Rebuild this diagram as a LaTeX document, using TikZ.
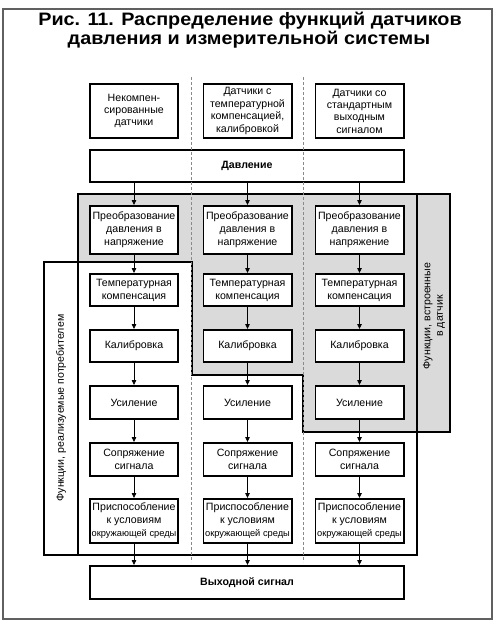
\documentclass[tikz,border=0pt]{standalone}
\usepackage{fontspec}
\setmainfont{Liberation Sans}
\newfontfamily\titlefont[FakeStretch=1.1]{Liberation Sans}
\usetikzlibrary{arrows.meta}
\definecolor{shade}{HTML}{DADADA}
\definecolor{dashc}{HTML}{8A8A8A}
\begin{document}
\begin{tikzpicture}[x=1pt,y=-1pt,
  box/.style={draw,line width=1.9pt,fill=white,minimum width=88.1pt,align=center,inner sep=1pt,font=\fontsize{10.6}{13}\selectfont},
  bar/.style={draw,line width=1.9pt,fill=white,minimum width=314.1pt,minimum height=32.1pt,font=\fontsize{10.6}{13}\selectfont\bfseries},
  arr/.style={line width=0.8pt,-{Triangle[width=4.5pt,length=5pt]}},
  region/.style={line width=1.9pt},
  lbl/.style={font=\fontsize{10.6}{12.5}\selectfont,align=center,rotate=90,inner sep=0pt},
  ttl/.style={font=\titlefont\fontsize{18}{21}\selectfont\bfseries,anchor=base,inner sep=0pt},
  sep/.style={dashc,line width=0.6pt,dash pattern=on 3pt off 2pt}
]
\useasboundingbox (0,0) rectangle (498,625);
\fill[white] (0,0) rectangle (498,625);
% frame
\draw[gray!75!black,line width=1.3pt] (3,9) rectangle (492,619);
% title
\node[ttl] (t1) at (250,25) {Рис. 11. Распределение функций датчиков};
\node[ttl] (t2) at (249,44) {давления и измерительной системы};
% sensor-integrated region
\draw[region,fill=shade] (78,194) -- (450,194) -- (450,432) -- (303,432) -- (303,375) -- (192,375) -- (192,262) -- (78,262) -- cycle;
\draw[region] (417,194) -- (417,432);
% consumer region
\draw[region,fill=white] (44,262) -- (192,262) -- (192,375) -- (303,375) -- (303,432) -- (417,432) -- (417,555) -- (44,555) -- cycle;
\draw[region] (78,262) -- (78,555);
% region labels
\node[lbl] (lc) at (61,408) {Функции, реализуемые потребителем};
\node[lbl] (ls) at (434,316) {Функции, встроенные\\в датчик};
% top boxes
\node[box,minimum height=54.1pt,font=\fontsize{10.6}{12.4}\selectfont] (a1) at (134,111) {Некомпен-\\сированные\\датчики};
\node[box,minimum height=54.1pt,font=\fontsize{10.6}{12.4}\selectfont] (a2) at (247.5,111) {Датчики с\\температурной\\компенсацией,\\калибровкой};
\node[box,minimum height=54.1pt,font=\fontsize{10.6}{12.4}\selectfont] (a3) at (359.5,111) {Датчики со\\стандартным\\выходным\\сигналом};
% pressure bar
\node[bar] (dav) at (247,166) {Давление};
% columns
\foreach \i/\x in {1/134,2/247.5,3/359.5}{
  \node[box,minimum height=48.1pt] (p\i) at (\x,230) {Преобразование\\давления в\\напряжение};
  \node[box,minimum height=32.1pt] (k\i) at (\x,290) {Температурная\\компенсация};
  \node[box,minimum height=32.1pt] (c\i) at (\x,346) {Калибровка};
  \node[box,minimum height=33.1pt] (u\i) at (\x,402.5) {Усиление};
  \node[box,minimum height=33.1pt] (s\i) at (\x,459.5) {Сопряжение\\сигнала};
  \node[box,minimum height=44.1pt] (e\i) at (\x,521) {Приспособление\\к условиям\\{\fontsize{9.3}{13}\selectfont окружающей среды}};
}
% output bar
\node[bar,minimum height=33.1pt] (out) at (247,582.5) {Выходной сигнал};
% dashed separators
\coordinate (d1a) at (191,77); \coordinate (d1b) at (191,562);
\coordinate (d2a) at (303,77); \coordinate (d2b) at (303,562);
\draw[sep] (d1a) -- (d1b);
\draw[sep] (d2a) -- (d2b);
% arrows
\foreach \i in {1,2,3}{
  \draw[arr] (dav.south -| p\i.north) -- (p\i.north);
  \draw[arr] (p\i) -- (k\i);
  \draw[arr] (k\i) -- (c\i);
  \draw[arr] (c\i) -- (u\i);
  \draw[arr] (u\i) -- (s\i);
  \draw[arr] (s\i) -- (e\i);
  \draw[arr] (e\i.south) -- (out.north -| e\i.south);
}
\end{tikzpicture}
\end{document}
